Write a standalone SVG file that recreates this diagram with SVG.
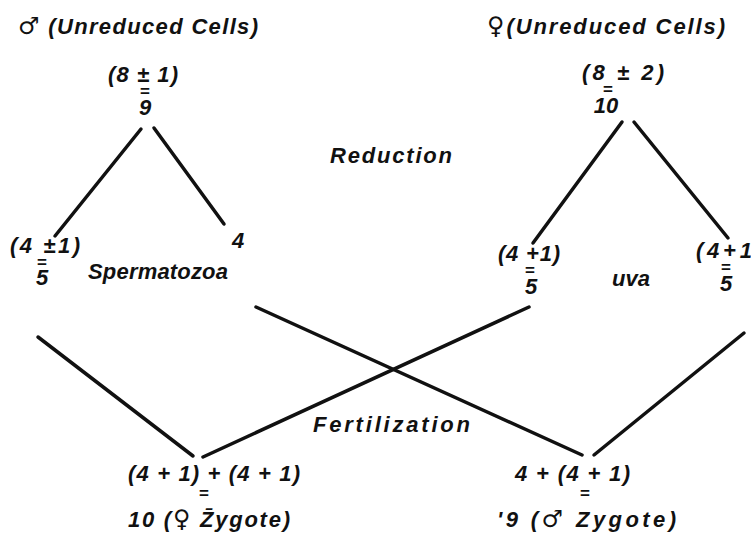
<svg xmlns="http://www.w3.org/2000/svg" width="751" height="540" viewBox="0 0 751 540">
<style>
text{font-family:"Liberation Sans","DejaVu Sans",sans-serif;font-style:italic;font-weight:bold;font-size:22px;fill:#111}
.m{text-anchor:middle}
.eq{font-size:17px;font-style:normal}
.sym{font-family:"DejaVu Sans",sans-serif;font-style:normal;font-weight:normal;font-size:24px}
.c line{stroke:#111;stroke-width:3.5;stroke-linecap:round}
</style>
<rect width="751" height="540" fill="#fff"/>
<g id="male-cells">
<text x="18" y="34" textLength="240" lengthAdjust="spacing"><tspan class="sym">♂</tspan> (Unreduced Cells)</text>
<text x="108" y="82" textLength="70" lengthAdjust="spacing">(8 ± 1)</text>
<text class="m eq" x="145" y="97">=</text>
<text class="m" x="145" y="115">9</text>
</g>
<g id="female-cells">
<text x="487" y="34" textLength="238" lengthAdjust="spacing"><tspan class="sym">♀</tspan>(Unreduced Cells)</text>
<text x="582" y="80" textLength="82" lengthAdjust="spacing">(8 ± 2)</text>
<text class="m eq" x="608" y="95">=</text>
<text class="m" x="606" y="113">10</text>
</g>
<text id="reduction" x="330" y="163" textLength="122" lengthAdjust="spacing">Reduction</text>
<g id="sperm-a">
<text x="10" y="253" textLength="70" lengthAdjust="spacing">(4 ±1)</text>
<text class="m eq" x="42" y="268">=</text>
<text class="m" x="42" y="285">5</text>
</g>
<text id="spermatozoa" x="88" y="279" textLength="140" lengthAdjust="spacing">Spermatozoa</text>
<text id="sperm-b" x="232" y="248">4</text>
<g id="ovum-a">
<text x="498" y="261" textLength="62" lengthAdjust="spacing">(4 +1)</text>
<text class="m eq" x="530" y="276">=</text>
<text class="m" x="531" y="294">5</text>
</g>
<text id="uva" x="612" y="286" textLength="38" lengthAdjust="spacing">uva</text>
<g id="ovum-b">
<text x="696" y="258" textLength="56" lengthAdjust="spacing">(4+1</text>
<text class="m eq" x="726" y="273">=</text>
<text class="m" x="726" y="291">5</text>
</g>
<text id="fertilization" x="313" y="432" textLength="157" lengthAdjust="spacing">Fertilization</text>
<g id="female-zygote">
<text x="128" y="481" textLength="172" lengthAdjust="spacing">(4 + 1) + (4 + 1)</text>
<text class="m eq" x="204" y="499">=</text>
<text x="128" y="527" textLength="162" lengthAdjust="spacing">10 (<tspan class="sym">♀</tspan> Z̄ygote)</text>
</g>
<g id="male-zygote">
<text x="515" y="481" textLength="115" lengthAdjust="spacing">4 + (4 + 1)</text>
<text class="m eq" x="585" y="499">=</text>
<text x="497" y="527" textLength="179" lengthAdjust="spacing">'9 (<tspan class="sym">♂</tspan> Zygote)</text>
</g>
<g id="connectors" class="c">
<line x1="141" y1="129" x2="55" y2="236"/>
<line x1="154" y1="128" x2="224" y2="224"/>
<line x1="622" y1="122" x2="533" y2="243"/>
<line x1="634" y1="122" x2="728" y2="238"/>
<line x1="38" y1="337" x2="193" y2="456"/>
<line x1="256" y1="307" x2="582" y2="455"/>
<line x1="529" y1="307" x2="203" y2="457"/>
<line x1="744" y1="333" x2="594" y2="455"/>
</g>
</svg>
